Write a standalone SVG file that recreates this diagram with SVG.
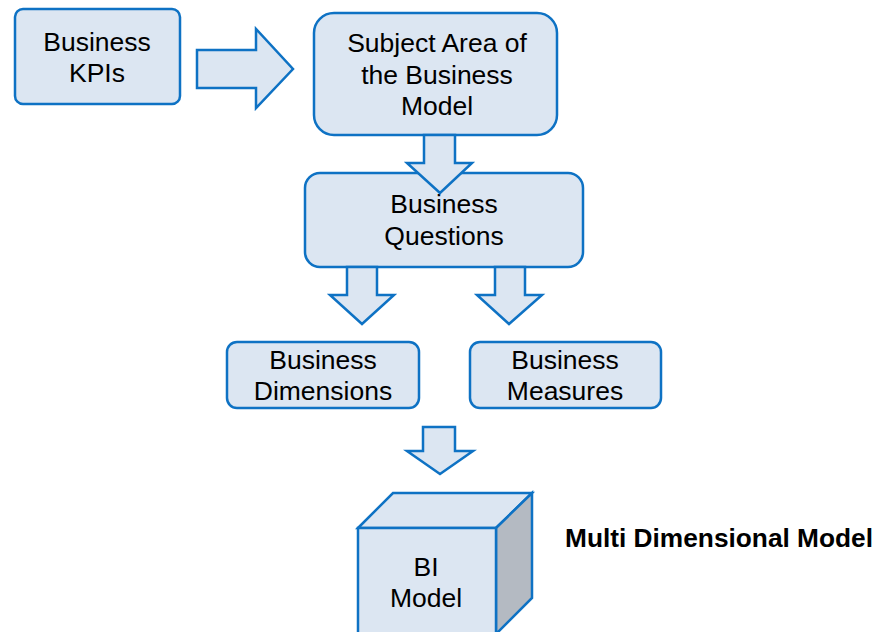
<svg xmlns="http://www.w3.org/2000/svg" width="886" height="632" viewBox="0 0 886 632">
<style>
.box{fill:#dce6f2;stroke:#0e72c4;stroke-width:2.5}
.arr{fill:#dce6f2;stroke:#0e72c4;stroke-width:2.5;stroke-linejoin:miter}
.t{font-family:"Liberation Sans",Arial,sans-serif;font-size:26.5px;fill:#000;text-anchor:middle}
.title{font-family:"Liberation Sans",Arial,sans-serif;font-size:25px;font-weight:bold;fill:#000}
</style>
<rect width="886" height="632" fill="#fff"/>
<g id="kpis">
<rect class="box" x="15" y="9" width="165" height="95" rx="8"/>
<text class="t" x="97" y="51">Business</text>
<text class="t" x="97" y="82">KPIs</text>
</g>
<g id="subject">
<rect class="box" x="314" y="13" width="243" height="122" rx="20"/>
<text class="t" x="437" y="52">Subject Area of</text>
<text class="t" x="437" y="84">the Business</text>
<text class="t" x="437" y="115">Model</text>
</g>
<g id="questions">
<rect class="box" x="305" y="173" width="278" height="94" rx="15"/>
<text class="t" x="444" y="213">Business</text>
<text class="t" x="444" y="245">Questions</text>
</g>
<g id="dimensions">
<rect class="box" x="227" y="342" width="192" height="66" rx="10"/>
<text class="t" x="323" y="369">Business</text>
<text class="t" x="323" y="400">Dimensions</text>
</g>
<g id="measures">
<rect class="box" x="470" y="342" width="191" height="66" rx="10"/>
<text class="t" x="565" y="369">Business</text>
<text class="t" x="565" y="400">Measures</text>
</g>
<g id="bimodel">
<polygon class="box" points="358,528 393,493 532,493 496,528"/>
<polygon fill="#b4bac2" stroke="#0e72c4" stroke-width="2.5" points="496,528 532,493 532,598 496,634"/>
<rect class="box" x="358" y="528" width="138" height="110"/>
<text class="t" x="426" y="576">BI</text>
<text class="t" x="426" y="607">Model</text>
</g>
<g id="label">
<text class="title" x="565" y="547" textLength="308" lengthAdjust="spacingAndGlyphs">Multi Dimensional Model</text>
</g>
<g id="connectors">
<polygon class="arr" points="197,50 256,50 256,29 293,69 256,108 256,88 197,88"/>
<polygon class="arr" points="424,135 455,135 455,163 472,163 440,193 407,163 424,163"/>
<polygon class="arr" points="347,267 377,267 377,295 394,295 362,324 330,295 347,295"/>
<polygon class="arr" points="495,267 525,267 525,295 542,295 509,324 477,295 495,295"/>
<polygon class="arr" points="423,427 455,427 455,451 473,451 440,474 407,451 423,451"/>
</g>
</svg>
